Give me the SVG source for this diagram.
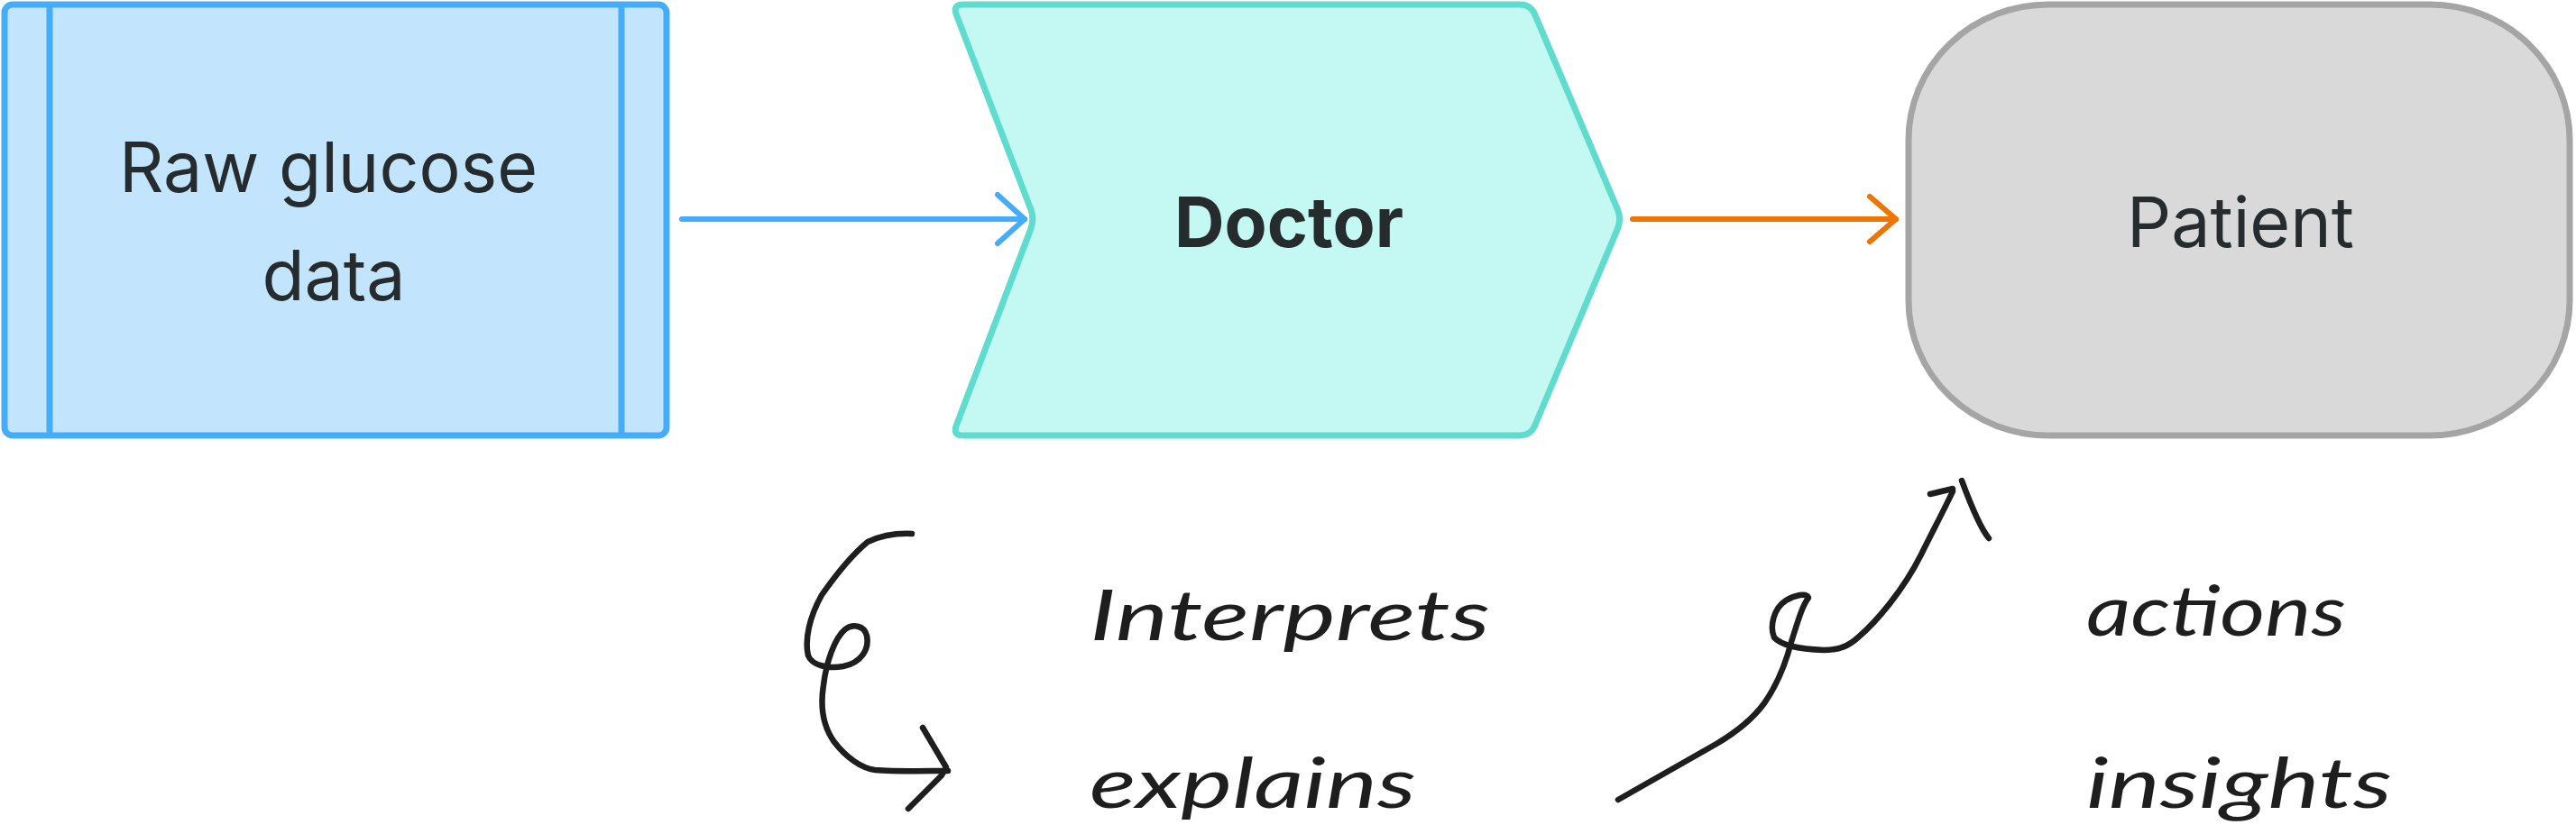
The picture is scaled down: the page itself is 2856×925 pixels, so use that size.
<svg xmlns="http://www.w3.org/2000/svg" width="2856" height="925" viewBox="0 0 2856 925">
<style>
.lbl{font-family:Inter,"Liberation Sans",Arial,sans-serif;font-size:77px;fill:#262b2e;text-anchor:middle}
.bold{font-weight:bold}
.hand{font-family:Lato,"Noto Sans",sans-serif;font-style:italic;font-size:78px;fill:#1e1e1e}
.ink{fill:none;stroke:#1e1e1e;stroke-width:6.5;stroke-linecap:round;stroke-linejoin:round}
.conn{fill:none;stroke-width:6;stroke-linecap:round}
</style>
<defs>
<marker id="ah-blue" markerUnits="userSpaceOnUse" markerWidth="40" markerHeight="60" viewBox="-35 -30 40 60" refX="0" refY="0" orient="auto" overflow="visible"><path d="M -30 -27 L 0 0 L -30 27" fill="none" stroke="#45acfa" stroke-width="6" stroke-linecap="round" stroke-linejoin="round"/></marker>
<marker id="ah-orange" markerUnits="userSpaceOnUse" markerWidth="40" markerHeight="60" viewBox="-35 -30 40 60" refX="0" refY="0" orient="auto" overflow="visible"><path d="M -29 -25 L 0 0 L -29 25" fill="none" stroke="#ee7502" stroke-width="6" stroke-linecap="round" stroke-linejoin="round"/></marker>
</defs>
<rect width="2856" height="925" fill="#ffffff"/>
<g id="node-raw">
<rect x="5" y="5" width="734" height="478" rx="9" fill="#c2e5fd" stroke="#45acfa" stroke-width="7"/>
<line x1="55" y1="5" x2="55" y2="483" stroke="#45acfa" stroke-width="7"/>
<line x1="689" y1="5" x2="689" y2="483" stroke="#45acfa" stroke-width="7"/>
<text class="lbl" x="364" y="213">Raw glucose</text>
<text class="lbl" x="370" y="333">data</text>
</g>
<g id="node-doctor">
<path d="M 1068,5 L 1685,5 Q 1697,5 1701.7,16 L 1793.3,232 Q 1798,243 1793.3,254 L 1701.7,472 Q 1697,483 1685,483 L 1068,483 Q 1056,483 1060.3,471.8 L 1142.7,254.2 Q 1147,243 1142.7,231.8 L 1060.3,16.2 Q 1056,5 1068,5 Z" fill="#c4f9f3" stroke="#5fdccd" stroke-width="7"/>
<text class="lbl bold" x="1429" y="274">Doctor</text>
</g>
<g id="node-patient">
<rect x="2116" y="5" width="733" height="478" rx="155" ry="150" fill="#d9d9d9" stroke="#a5a5a5" stroke-width="7"/>
<text class="lbl" x="2484" y="274">Patient</text>
</g>
<g id="connectors">
<line class="conn" x1="756" y1="243" x2="1136" y2="243" stroke="#45acfa" marker-end="url(#ah-blue)"/>
<line class="conn" x1="1810" y1="243" x2="2102" y2="243" stroke="#ee7502" marker-end="url(#ah-orange)"/>
<path class="ink" d="M 1011,592 C 990,591 975,595 962,601 C 945,615 925,640 911,660 C 897,685 892,710 896,727 C 900,738 918,742 935,739 C 955,735 964,720 961,705 C 958,693 945,692 937,698 C 925,708 916,735 913,760 C 909,785 912,805 925,823 C 938,840 955,852 970,854 C 995,856 1030,855 1051,855"/>
<path class="ink" d="M 1023,807 L 1049,851 L 1044,860 L 1007,897"/>
<path class="ink" d="M 1794,887 L 1903,825 C 1925,812 1945,795 1956,780 C 1970,760 1980,735 1986,712 C 1993,690 1998,672 2005,663 C 2003,657 1990,660 1980,666 C 1966,675 1962,695 1967,707 C 1975,716 1995,720 2022,721 C 2040,721 2050,716 2060,707 C 2080,690 2110,655 2130,615 C 2145,585 2158,560 2165,545"/>
<path class="ink" d="M 2140,548 L 2165,542 M 2175,533 C 2185,560 2195,585 2205,597"/>
</g>
<g id="labels">
<text class="hand" x="1208" y="710" textLength="444" lengthAdjust="spacingAndGlyphs">Interprets</text>
<text class="hand" x="1208" y="896" textLength="362" lengthAdjust="spacingAndGlyphs">explains</text>
<text class="hand" x="2313" y="705" textLength="288" lengthAdjust="spacingAndGlyphs">actions</text>
<text class="hand" x="2313" y="896" textLength="339" lengthAdjust="spacingAndGlyphs">insights</text>
</g>
</svg>
